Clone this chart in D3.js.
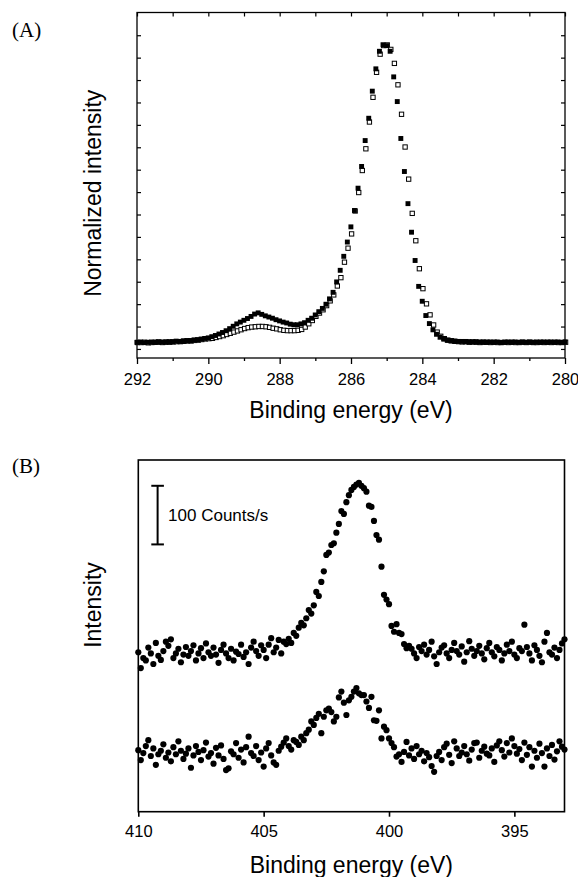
<!DOCTYPE html>
<html><head><meta charset="utf-8">
<script src="https://cdn.jsdelivr.net/npm/d3@7/dist/d3.min.js"></script>
<style>body{margin:0;background:#fff}svg{display:block}</style>
</head><body>
<script>
// ---------- Panel A data (C 1s), binding energy 292.0 -> 280.0 eV, 0.1 eV steps ----------
const energyA = d3.range(0, 121).map(i => +(292 - 0.1 * i).toFixed(1));
const filledA = [
  0.000, 0.001, -0.001, 0.000, 0.001, 0.000, 0.002, 0.001, 0.000, 0.002,
  0.002, 0.004, 0.003, 0.005, 0.006, 0.006, 0.008, 0.009, 0.011, 0.013,
  0.015, 0.019, 0.023, 0.028, 0.033, 0.039, 0.046, 0.054, 0.062, 0.068,
  0.074, 0.080, 0.087, 0.095, 0.099, 0.094, 0.089, 0.085, 0.081, 0.076,
  0.072, 0.068, 0.065, 0.061, 0.059, 0.059, 0.062, 0.066, 0.074, 0.081,
  0.092, 0.103, 0.114, 0.128, 0.146, 0.168, 0.203, 0.242, 0.289, 0.337,
  0.388, 0.443, 0.518, 0.591, 0.678, 0.753, 0.844, 0.919, 0.978, 1.000,
  0.997, 0.978, 0.892, 0.809, 0.685, 0.574, 0.466, 0.370, 0.275, 0.188,
  0.138, 0.090, 0.063, 0.042, 0.027, 0.017, 0.011, 0.007, 0.005, 0.004,
  0.003, 0.003, 0.002, 0.002, 0.001, 0.002, 0.001, 0.001, 0.000, 0.001,
  0.000, 0.001, -0.001, 0.000, 0.001, 0.000, 0.001, 0.000, 0.001, 0.000,
  0.001, 0.000, 0.001, 0.000, 0.001, 0.000, 0.001, 0.000, 0.001, 0.000,
  0.001
];
const openA = [
  0.000, 0.000, 0.001, -0.001, 0.000, 0.001, 0.001, 0.000, 0.002, 0.001,
  0.002, 0.003, 0.003, 0.004, 0.005, 0.005, 0.007, 0.008, 0.010, 0.012,
  0.013, 0.014, 0.017, 0.020, 0.023, 0.027, 0.031, 0.035, 0.039, 0.043,
  0.047, 0.050, 0.052, 0.053, 0.054, 0.054, 0.053, 0.051, 0.048, 0.046,
  0.043, 0.041, 0.040, 0.040, 0.040, 0.041, 0.044, 0.052, 0.063, 0.074,
  0.088, 0.099, 0.110, 0.124, 0.140, 0.160, 0.190, 0.218, 0.270, 0.317,
  0.365, 0.442, 0.504, 0.578, 0.651, 0.741, 0.824, 0.908, 0.969, 0.998,
  1.000, 0.985, 0.938, 0.866, 0.767, 0.657, 0.549, 0.434, 0.342, 0.248,
  0.181, 0.130, 0.093, 0.059, 0.035, 0.021, 0.013, 0.008, 0.006, 0.004,
  0.003, 0.002, 0.003, 0.001, 0.002, 0.001, 0.000, 0.001, 0.001, 0.000,
  0.001, 0.000, 0.000, 0.001, 0.000, 0.001, 0.000, 0.000, 0.001, 0.000,
  0.001, 0.000, 0.000, 0.001, 0.000, 0.001, 0.000, 0.001, 0.000, 0.000,
  0.001
];
const tickLabelsA = [292, 290, 288, 286, 284, 282, 280];
const minorTicksA = [292, 291, 290, 289, 288, 287, 286, 285, 284, 283, 282, 281, 280];

// ---------- Panel B data (N 1s), binding energy 410.0 -> 393.0 eV, 0.1 eV steps ----------
const energyB = d3.range(0, 171).map(i => +(410 - 0.1 * i).toFixed(1));
const upperB = [
  272, 245, 262, 258, 280, 270, 252, 288, 266, 259,
  274, 290, 283, 294, 262, 270, 278, 255, 268, 281,
  266, 274, 284, 258, 270, 279, 262, 287, 272, 266,
  280, 268, 254, 276, 285, 270, 262, 278, 258, 273,
  269, 285, 264, 272, 252, 280, 290, 274, 266, 284,
  276, 262, 285, 296, 272,
  280, 293, 270, 290, 286, 295, 288, 305, 300, 314,
  322, 318, 330, 344, 338, 352, 375, 368, 392, 410,
  438, 442, 455, 458, 476, 491, 513, 508, 528, 540,
  549, 554, 558, 561, 556, 552, 546, 522, 520, 496,
  472, 464, 418, 370, 362, 354, 317, 307, 320, 305,
  303, 286, 279, 283, 278,
  270, 262, 281, 274, 285, 268, 276, 290, 265, 252,
  272, 280, 284, 270, 262, 276, 288, 274, 268, 282,
  256, 272, 291, 278, 266, 274, 283, 270, 260, 279,
  288, 272, 265, 281, 276, 258, 270, 285, 274, 290,
  268, 262, 279, 274, 319, 281, 270, 258, 284, 276,
  266, 255, 290, 305, 272, 268, 280, 262, 276, 287,
  294
];
const lowerB = [
  105, 88, 100, 112, 122, 95, 108, 80, 98, 104,
  115, 92, 101, 86, 110, 98, 120, 104, 90, 99,
  108, 75, 96, 112, 102, 88, 105, 118, 94, 100,
  82, 109, 96, 113, 90, 71, 74, 103, 98, 117,
  92, 106, 84, 110, 128, 100, 95, 112, 88, 101,
  77, 108, 117, 96, 84, 80, 104, 111, 118, 125,
  112, 106, 122, 119, 114, 128, 122, 134, 140, 154,
  148, 160, 167, 134, 162, 173, 176, 170, 154, 162,
  195, 205, 186, 165, 190, 196, 205, 211, 202, 199,
  199, 188, 177, 196, 156, 155, 173, 125, 145, 139,
  125, 117, 110, 94, 98, 85, 102, 119, 96, 108,
  90, 112, 98, 104, 86, 100, 93, 78, 68, 95,
  102, 88, 110, 116, 97, 83, 120, 108, 95, 101,
  112, 98, 87, 106, 117, 118, 92, 104, 111, 99,
  96, 108, 85, 113, 120, 105, 94, 117, 101, 125,
  112, 99, 107, 88, 118, 97, 110, 77, 104, 92,
  116, 100, 77, 108, 95, 114, 89, 103, 120, 111,
  106
];
const tickLabelsB = [410, 405, 400, 395];
const scaleBarB = { energy: 409.23, from: 456, to: 556, label: "100 Counts/s" };

// ---------- drawing ----------
const W = 578, H = 877;
const svg = d3.select("body").append("svg").attr("width", W).attr("height", H);
const sans = "Liberation Sans, Arial, Helvetica, sans-serif";
const serif = "Liberation Serif, Times New Roman, serif";

// Panel A
const A = { l: 137, r: 565, t: 12.5, b: 358 };
const xA = d3.scaleLinear().domain([292, 280]).range([A.l, A.r]);
const yA = d3.scaleLinear().domain([-0.052, 1.109]).range([A.b, A.t]);
const yTicksA = d3.range(15).map(k => 1.0326 - 0.0753 * k);

const gA = svg.append("g");
gA.append("rect").attr("x", A.l).attr("y", A.t).attr("width", A.r - A.l).attr("height", A.b - A.t)
  .attr("fill", "none").attr("stroke", "#000").attr("stroke-width", 1.3);

// bottom axis (outward ticks)
const axA = gA.append("g").attr("transform", `translate(0,${A.b})`)
  .call(d3.axisBottom(xA).tickValues(tickLabelsA).tickSize(6).tickFormat(d3.format("d")));
axA.select(".domain").remove();
axA.selectAll("line").attr("stroke-width", 1.3);
axA.selectAll("text").attr("font-family", sans).attr("font-size", 16.5).attr("dy", "1.1em").attr("fill", "#000");
gA.append("g").attr("transform", `translate(0,${A.b})`)
  .call(d3.axisBottom(xA).tickValues(minorTicksA.filter(d => !tickLabelsA.includes(d))).tickSize(3).tickFormat(""))
  .call(g => g.select(".domain").remove()).selectAll("line").attr("stroke-width", 1.3);
// top axis (inward ticks)
gA.append("g").attr("transform", `translate(0,${A.t})`)
  .call(d3.axisTop(xA).tickValues(minorTicksA).tickSizeInner(-4).tickSizeOuter(0).tickFormat(""))
  .call(g => g.select(".domain").remove()).selectAll("line").attr("stroke-width", 1.2);
// left / right (inward ticks)
gA.append("g").attr("transform", `translate(${A.l},0)`)
  .call(d3.axisLeft(yA).tickValues(yTicksA).tickSizeInner(-4).tickSizeOuter(0).tickFormat(""))
  .call(g => g.select(".domain").remove()).selectAll("line").attr("stroke-width", 1.2);
gA.append("g").attr("transform", `translate(${A.r},0)`)
  .call(d3.axisRight(yA).tickValues(yTicksA).tickSizeInner(-4).tickSizeOuter(0).tickFormat(""))
  .call(g => g.select(".domain").remove()).selectAll("line").attr("stroke-width", 1.2);

// open squares then filled squares
const sq = 4.3;
gA.append("g").selectAll("rect").data(openA).join("rect")
  .attr("x", (d, i) => xA(energyA[i]) - sq / 2 + 0.6).attr("y", d => yA(d) - sq / 2)
  .attr("width", sq).attr("height", sq).attr("fill", "#fff").attr("stroke", "#000").attr("stroke-width", 1);
gA.append("g").selectAll("rect").data(filledA).join("rect")
  .attr("x", (d, i) => xA(energyA[i]) - sq / 2 - 0.4).attr("y", d => yA(d) - sq / 2 - 0.5)
  .attr("width", sq + 0.6).attr("height", sq + 0.6).attr("fill", "#000");

gA.append("text").attr("x", (A.l + A.r) / 2).attr("y", 418).attr("text-anchor", "middle")
  .attr("font-family", sans).attr("font-size", 23).text("Binding energy (eV)");
gA.append("text").attr("transform", `translate(101,${(A.t + A.b) / 2 + 8}) rotate(-90)`).attr("text-anchor", "middle")
  .attr("font-family", sans).attr("font-size", 23).text("Normalized intensity");
gA.append("text").attr("x", 12).attr("y", 37).attr("font-family", serif).attr("font-size", 21).text("(A)");

// Panel B
const B = { l: 138.3, r: 564.5, t: 460, b: 811.7 };
const xB = d3.scaleLinear().domain([410, 393]).range([B.l, B.r]);
const yB = d3.scaleLinear().domain([0, 600]).range([B.b, B.t]);
const gB = svg.append("g");
gB.append("rect").attr("x", B.l).attr("y", B.t).attr("width", B.r - B.l).attr("height", B.b - B.t)
  .attr("fill", "none").attr("stroke", "#000").attr("stroke-width", 1.6);
const axB = gB.append("g").attr("transform", `translate(0,${B.b})`)
  .call(d3.axisBottom(xB).tickValues(tickLabelsB).tickSize(5).tickFormat(d3.format("d")));
axB.select(".domain").remove();
axB.selectAll("line").attr("stroke-width", 1.6);
axB.selectAll("text").attr("font-family", sans).attr("font-size", 16.5).attr("dy", "1.05em").attr("fill", "#000");

const r = 3.1;
gB.append("g").selectAll("circle").data(upperB).join("circle")
  .attr("cx", (d, i) => xB(energyB[i])).attr("cy", d => yB(d)).attr("r", r).attr("fill", "#000");
gB.append("g").selectAll("circle").data(lowerB).join("circle")
  .attr("cx", (d, i) => xB(energyB[i])).attr("cy", d => yB(d)).attr("r", r).attr("fill", "#000");

// scale bar
const sbx = xB(scaleBarB.energy);
const sb = gB.append("g").attr("stroke", "#000").attr("stroke-width", 2);
sb.append("line").attr("x1", sbx).attr("x2", sbx).attr("y1", yB(scaleBarB.from)).attr("y2", yB(scaleBarB.to));
sb.append("line").attr("x1", sbx - 6.3).attr("x2", sbx + 6.3).attr("y1", yB(scaleBarB.from)).attr("y2", yB(scaleBarB.from));
sb.append("line").attr("x1", sbx - 6.3).attr("x2", sbx + 6.3).attr("y1", yB(scaleBarB.to)).attr("y2", yB(scaleBarB.to));
gB.append("text").attr("x", sbx + 10.5).attr("y", (yB(scaleBarB.from) + yB(scaleBarB.to)) / 2 + 6)
  .attr("font-family", sans).attr("font-size", 17).text(scaleBarB.label);

gB.append("text").attr("x", (B.l + B.r) / 2).attr("y", 873).attr("text-anchor", "middle")
  .attr("font-family", sans).attr("font-size", 23).text("Binding energy (eV)");
gB.append("text").attr("transform", `translate(101,605) rotate(-90)`).attr("text-anchor", "middle")
  .attr("font-family", sans).attr("font-size", 23).text("Intensity");
gB.append("text").attr("x", 12).attr("y", 473).attr("font-family", serif).attr("font-size", 21).text("(B)");
</script>
</body></html>
